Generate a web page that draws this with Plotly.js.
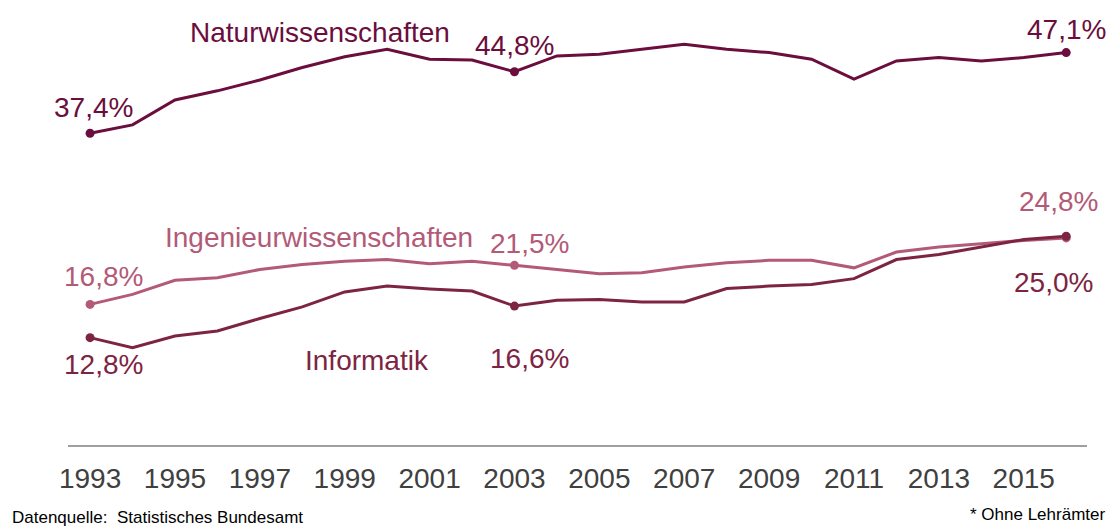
<!DOCTYPE html>
<html>
<head>
<meta charset="utf-8">
<script src="https://cdn.plot.ly/plotly-3.0.1.min.js"></script>
<style>html,body{margin:0;padding:0;background:#fff;}#chart{width:1111px;height:526px;}</style>
</head>
<body>
<div id="chart"></div>
<script>
const years = [1993,1994,1995,1996,1997,1998,1999,2000,2001,2002,2003,2004,2005,2006,2007,2008,2009,2010,2011,2012,2013,2014,2015,2016];
const naturwissenschaften = [37.4,38.4,41.4,42.5,43.8,45.3,46.6,47.5,46.3,46.2,44.8,46.7,46.9,47.5,48.1,47.5,47.1,46.3,43.9,46.1,46.5,46.1,46.5,47.1];
const ingenieurwissenschaften = [16.8,18.0,19.7,20.0,21.0,21.6,22.0,22.2,21.7,22.0,21.5,21.0,20.5,20.6,21.3,21.8,22.1,22.1,21.2,23.1,23.7,24.1,24.5,24.8];
const informatik = [12.8,11.6,13.0,13.6,15.1,16.5,18.3,19.0,18.65,18.4,16.6,17.3,17.4,17.1,17.1,18.7,19.0,19.2,19.9,22.2,22.8,23.7,24.6,25.0];
const tickYears = [1993,1995,1997,1999,2001,2003,2005,2007,2009,2011,2013,2015];
const markedYears = [1993,2003,2016];
const seriesNames = ['Naturwissenschaften','Ingenieurwissenschaften','Informatik'];

const FONT = 'Liberation Sans, Arial, sans-serif';
const colNat = '#6b0d3d', colIng = '#b25a78', colInf = '#7d2442';

function pick(vals){ return markedYears.map(y => vals[years.indexOf(y)]); }
function fmt(v){ return v.toFixed(1).replace('.', ',') + '%'; }

const series = [
  {vals: naturwissenschaften, color: colNat},
  {vals: ingenieurwissenschaften, color: colIng},
  {vals: informatik, color: colInf}
];

const traces = [];
series.forEach(s => {
  traces.push({x: years, y: s.vals, mode: 'lines', line: {color: s.color, width: 3}, hoverinfo: 'skip', showlegend: false});
});
series.forEach(s => {
  traces.push({x: markedYears, y: pick(s.vals), mode: 'markers', marker: {color: s.color, size: 9}, hoverinfo: 'skip', showlegend: false});
});

// label offsets (pixels) relative to marked points
const offs = [
  [[3,26],[0,26],[0,23]],
  [[13,28],[15,22],[-8,36]],
  [[13,-27],[15,-52],[-13,-46]]
];
const annotations = [];
series.forEach((s, i) => {
  pick(s.vals).forEach((v, j) => {
    annotations.push({x: markedYears[j], y: v, xref: 'x', yref: 'y', xanchor: 'center', yanchor: 'middle', text: fmt(v), showarrow: false,
      xshift: offs[i][j][0], yshift: offs[i][j][1], font: {family: FONT, size: 28, color: s.color}});
  });
});
annotations.push({x: 0.2473, y: 0.926, xref: 'paper', yref: 'paper', xanchor: 'center', yanchor: 'middle', text: seriesNames[0], showarrow: false, font: {family: FONT, size: 28, color: colNat}});
annotations.push({x: 0.2459, y: 0.467, xref: 'paper', yref: 'paper', xanchor: 'center', yanchor: 'middle', text: seriesNames[1], showarrow: false, font: {family: FONT, size: 28, color: colIng}});
annotations.push({x: 0.2934, y: 0.191, xref: 'paper', yref: 'paper', xanchor: 'center', yanchor: 'middle', text: seriesNames[2], showarrow: false, font: {family: FONT, size: 28, color: colInf}});
annotations.push({x: -0.0569, y: -0.1618, xref: 'paper', yref: 'paper', xanchor: 'left', yanchor: 'middle', text: 'Datenquelle:  Statistisches Bundesamt', showarrow: false, font: {family: FONT, size: 17, color: '#000'}});
annotations.push({x: 1.0196, y: -0.157, xref: 'paper', yref: 'paper', xanchor: 'right', yanchor: 'middle', text: '* Ohne Lehrämter', showarrow: false, font: {family: FONT, size: 17, color: '#000'}});

const layout = {
  width: 1111, height: 526,
  margin: {l: 68, r: 24, t: 0, b: 81},
  paper_bgcolor: '#fff', plot_bgcolor: '#fff',
  showlegend: false,
  xaxis: {range: [1992.48, 2016.49], tickvals: tickYears, ticktext: tickYears.map(String),
    showgrid: false, zeroline: false, showline: true, linecolor: '#a0a0a0', linewidth: 1.5,
    ticks: '', tickfont: {family: FONT, size: 28, color: '#404040'}, ticklabelstandoff: 8},
  yaxis: {range: [-0.12, 53.43], visible: false, showgrid: false, zeroline: false},
  annotations: annotations
};

Plotly.newPlot('chart', traces, layout, {staticPlot: true, displayModeBar: false});
</script>
</body>
</html>
